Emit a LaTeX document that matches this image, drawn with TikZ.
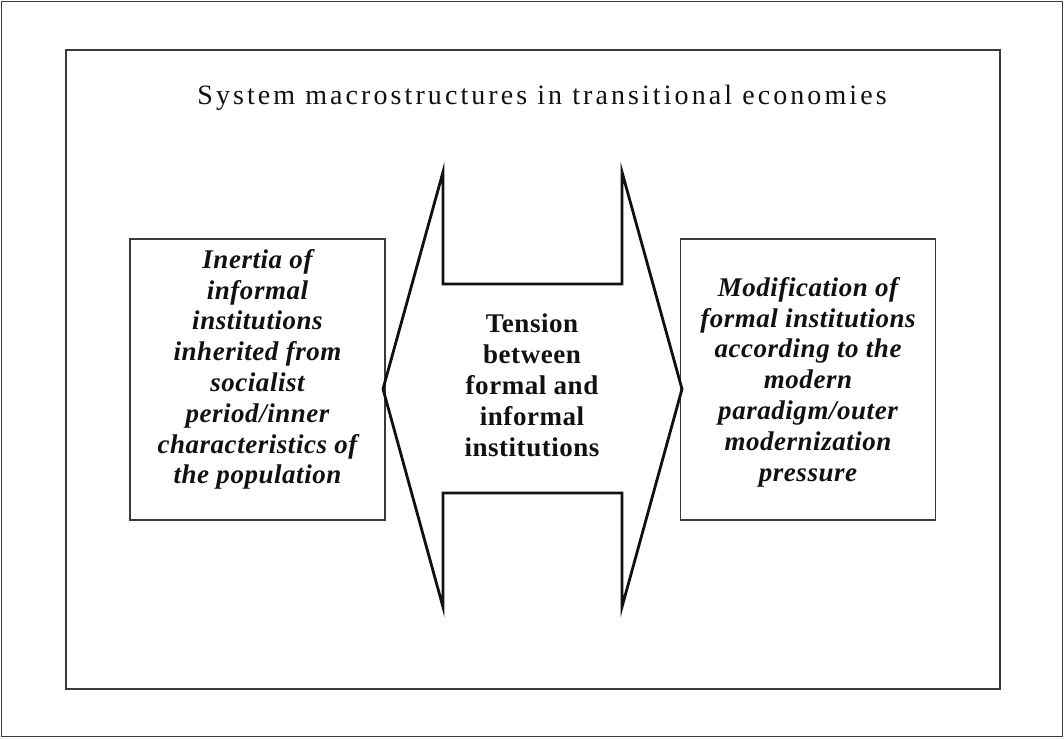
\documentclass[tikz,border=0pt]{standalone}
\usepackage{fontspec}
\setmainfont{Liberation Serif}
\definecolor{frameg}{HTML}{3A3A3A}
\definecolor{inkk}{HTML}{111111}
\begin{document}
\begin{tikzpicture}[x=1pt,y=-1pt,line join=miter,
  outerframe/.style={draw=frameg,line width=1.5pt},
  innerframe/.style={draw=frameg,line width=2pt},
  sidebox/.style={draw=frameg,line width=1.6pt,minimum width=255pt,minimum height=281pt,inner sep=0pt},
  itext/.style={align=center,text=inkk,inner sep=0pt,font=\bfseries\itshape\fontsize{27}{30.8}\selectfont\addfontfeature{LetterSpace=2}},
  ctext/.style={align=center,text=inkk,inner sep=0pt,font=\bfseries\fontsize{27}{31}\selectfont\addfontfeature{LetterSpace=2}},
  titletext/.style={text=inkk,inner sep=0pt,font=\fontsize{28}{31}\selectfont\addfontfeature{LetterSpace=11}},
  bigarrow/.style={draw=inkk,line width=2.8pt}]
\useasboundingbox (0,0) rectangle (1064,738);
\draw[outerframe] (1.5,1.5) rectangle (1062.5,736.5);
\draw[innerframe] (65.5,50.5) rectangle (999.5,688.5);
\node[titletext] (T) at (542,98) {System macrostructures in transitional economies};
\node[sidebox] (L) at (257.5,379.5) {};
\node[sidebox] (R) at (808,379.5) {};
\coordinate (lt) at (383,389);
\coordinate (rt) at (682,389);
\draw[bigarrow] (lt) -- (443,172) -- (443,284) -- (622,284) -- (622,172) -- (rt) -- (622,607) -- (622,493) -- (443,493) -- (443,607) -- cycle;
\node[itext] (Lt) at (257.5,369.5) {Inertia of\\informal\\institutions\\inherited from\\socialist\\period/inner\\characteristics of\\the population};
\node[itext] (Rt) at (808,382) {Modification of\\formal institutions\\according to the\\modern\\paradigm/outer\\modernization\\pressure};
\node[ctext] (C) at (532,385.5) {Tension\\between\\formal and\\informal\\institutions};
\end{tikzpicture}
\end{document}
